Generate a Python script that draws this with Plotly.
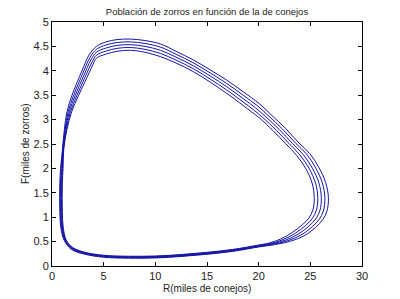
import plotly.graph_objects as go

# Phase-plane trajectory: five consecutive loops (inner -> outer)
R1 = [7.4, 10, 12.5, 15, 17.5, 20, 21.0, 22.1, 23.2, 24.2, 24.85, 25.25, 25.38, 25.17, 24.55, 23.66, 22.6, 21.4, 20.1, 19.3,
      18.5, 16.9, 15.3, 13.7, 12.0, 10.5, 9.0, 7.6, 6.3, 5.2, 4.3, 3.95, 3.2, 2.58, 1.9, 1.45, 1.14, 1.07, 1.0, 0.98,
      1.0, 1.08, 1.38, 2.0, 3.2, 5.0, 7.4]
F1 = [0.20, 0.205, 0.235, 0.28, 0.34, 0.43, 0.47, 0.55, 0.68, 0.84, 0.98, 1.15, 1.40, 1.70, 2.0, 2.27, 2.51, 2.77, 3.03, 3.16,
      3.29, 3.54, 3.77, 3.98, 4.16, 4.29, 4.38, 4.42, 4.40, 4.34, 4.26, 4.12, 3.78, 3.5, 3.16, 2.8, 2.4, 2.0, 1.7, 1.4,
      1.1, 0.8, 0.53, 0.38, 0.28, 0.22, 0.20]

R2 = [7.4, 10, 12.5, 15, 17.5, 20, 21.15, 22.35, 23.5, 24.525, 25.1875, 25.5875, 25.7225, 25.4975, 24.875, 23.985, 22.925, 21.7, 20.4, 19.5,
      18.5, 16.9, 15.3, 13.7, 12.0, 10.5, 9.0, 7.6, 6.3, 5.2, 4.3, 3.8625, 3.125, 2.42, 1.7875, 1.3875, 1.11, 1.01, 0.94, 0.92,
      0.94, 1.0225, 1.3275, 1.97, 3.2, 5.0, 7.4]
F2 = [0.19, 0.195, 0.225, 0.27, 0.33, 0.42, 0.4625, 0.54, 0.665, 0.8275, 0.9725, 1.1425, 1.40, 1.7025, 2.0025, 2.2775, 2.5125, 2.7825, 3.0425, 3.2,
      3.36, 3.6075, 3.8325, 4.04, 4.22, 4.355, 4.44, 4.4775, 4.46, 4.4025, 4.32, 4.1725, 3.835, 3.5, 3.16, 2.8, 2.4, 2.0, 1.7, 1.4,
      1.1, 0.8, 0.53, 0.37, 0.27, 0.21, 0.19]

R3 = [7.4, 10, 12.5, 15, 17.5, 20, 21.3, 22.6, 23.8, 24.85, 25.525, 25.925, 26.065, 25.825, 25.2, 24.31, 23.25, 22.0, 20.7, 19.7,
      18.5, 16.9, 15.3, 13.7, 12.0, 10.5, 9.0, 7.6, 6.3, 5.2, 4.3, 3.775, 3.05, 2.26, 1.675, 1.325, 1.08, 0.95, 0.88, 0.86,
      0.88, 0.965, 1.275, 1.94, 3.2, 5.0, 7.4]
F3 = [0.18, 0.185, 0.215, 0.26, 0.32, 0.41, 0.455, 0.53, 0.65, 0.815, 0.965, 1.135, 1.40, 1.705, 2.005, 2.285, 2.515, 2.795, 3.055, 3.24,
      3.43, 3.675, 3.895, 4.10, 4.28, 4.42, 4.50, 4.535, 4.52, 4.465, 4.38, 4.225, 3.89, 3.5, 3.16, 2.8, 2.4, 2.0, 1.7, 1.4,
      1.1, 0.8, 0.53, 0.36, 0.26, 0.20, 0.18]

R4 = [7.4, 10, 12.5, 15, 17.5, 20, 21.45, 22.85, 24.1, 25.175, 25.8625, 26.2625, 26.4075, 26.1525, 25.525, 24.635, 23.575, 22.3, 21.0, 19.9,
      18.5, 16.9, 15.3, 13.7, 12.0, 10.5, 9.0, 7.6, 6.3, 5.2, 4.3, 3.6875, 2.975, 2.10, 1.5625, 1.2625, 1.05, 0.89, 0.82, 0.80,
      0.82, 0.9075, 1.2225, 1.91, 3.2, 5.0, 7.4]
F4 = [0.17, 0.175, 0.205, 0.25, 0.31, 0.40, 0.4475, 0.52, 0.635, 0.8025, 0.9575, 1.1275, 1.40, 1.7075, 2.0075, 2.2925, 2.5175, 2.8075, 3.0675, 3.28,
      3.50, 3.7425, 3.9575, 4.16, 4.34, 4.485, 4.56, 4.5925, 4.58, 4.5275, 4.44, 4.2775, 3.945, 3.5, 3.16, 2.8, 2.4, 2.0, 1.7, 1.4,
      1.1, 0.8, 0.53, 0.35, 0.25, 0.19, 0.17]

R5 = [7.4, 10, 12.5, 15, 17.5, 20, 21.6, 23.1, 24.4, 25.5, 26.2, 26.6, 26.75, 26.48, 25.85, 24.96, 23.9, 22.6, 21.3, 20.1,
      18.5, 16.9, 15.3, 13.7, 12.0, 10.5, 9.0, 7.6, 6.3, 5.2, 4.3, 3.6, 2.9, 1.94, 1.45, 1.2, 1.02, 0.83, 0.76, 0.74,
      0.76, 0.85, 1.17, 1.88, 3.2, 5.0, 7.4]
F5 = [0.16, 0.165, 0.195, 0.24, 0.30, 0.39, 0.44, 0.51, 0.62, 0.79, 0.95, 1.12, 1.40, 1.71, 2.01, 2.30, 2.52, 2.82, 3.08, 3.32,
      3.57, 3.81, 4.02, 4.22, 4.40, 4.55, 4.62, 4.65, 4.64, 4.59, 4.50, 4.33, 4.0, 3.5, 3.16, 2.8, 2.4, 2.0, 1.7, 1.4,
      1.1, 0.8, 0.53, 0.34, 0.24, 0.18, 0.16]

loops = [(R1, F1), (R2, F2), (R3, F3), (R4, F4), (R5, F5)]

x_ticks = [0, 5, 10, 15, 20, 25, 30]
y_ticks = [0, 0.5, 1, 1.5, 2, 2.5, 3, 3.5, 4, 4.5, 5]

title_text = "Población de zorros en función de la de conejos"
x_title = "R(miles de conejos)"
y_title = "F(miles de zorros)"

fig = go.Figure()
for R, F in loops:
    fig.add_trace(go.Scatter(x=R, y=F, mode="lines",
                             line=dict(color="rgb(20,20,165)", width=1, shape="spline", smoothing=1.0),
                             showlegend=False, hoverinfo="skip"))

W, H = 400, 299
ml, mr, mt, mb = 52, 38, 22, 33
font = "Liberation Sans, Arial, sans-serif"

axis_common = dict(showline=True, linecolor="black", linewidth=1, mirror="ticks",
                   ticks="inside", ticklen=4, tickcolor="black", tickwidth=1,
                   showgrid=False, zeroline=False, tickfont=dict(family=font, size=11, color="#222"))

fig.update_layout(
    width=W, height=H,
    margin=dict(l=ml, r=mr, t=mt, b=mb, pad=0),
    paper_bgcolor="white", plot_bgcolor="white",
    xaxis=dict(range=[0, 30], tickvals=x_ticks, ticktext=[str(v) for v in x_ticks], **axis_common),
    yaxis=dict(range=[0, 5], tickvals=y_ticks, ticktext=[("%g" % v) for v in y_ticks], **axis_common),
    title=dict(text=title_text, font=dict(family=font, size=9.5, color="#222"),
               x=0.5, xref="paper", xanchor="center", y=1 - 12 / H, yref="container", yanchor="middle"),
    annotations=[
        dict(text=x_title, xref="paper", yref="paper", x=0.5, y=-(288 - 266) / (266 - 22),
             xanchor="center", yanchor="middle", showarrow=False,
             font=dict(family=font, size=10, color="#222")),
        dict(text=y_title, xref="paper", yref="paper", x=-(52 - 25) / (362 - 52), y=(266 - 144) / (266 - 22),
             xanchor="center", yanchor="middle", textangle=-90, showarrow=False,
             font=dict(family=font, size=10, color="#222")),
    ],
)

fig.write_html("out.html")
